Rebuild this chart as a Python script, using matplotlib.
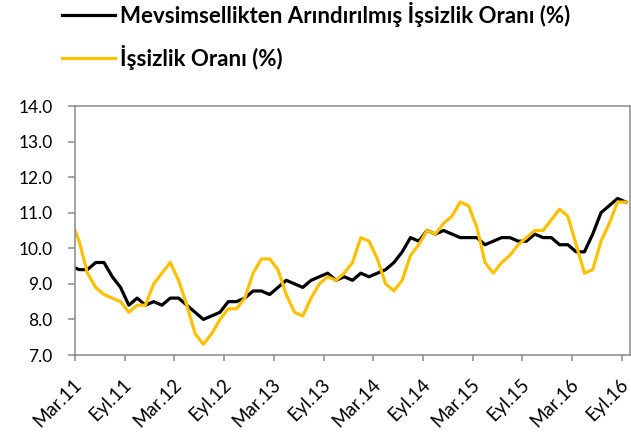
import matplotlib
matplotlib.use('Agg')
import matplotlib.pyplot as plt
from matplotlib.ticker import FixedLocator
from matplotlib.transforms import ScaledTranslation
import numpy as np

plt.rcParams['font.family'] = ['Lato', 'DejaVu Sans']

# aylik veri: Sub.11 .. Eyl.16 (ilk nokta eksenin solunda kaliyor, kirpiliyor)
ay_index = np.arange(-1, 67)

mevsimsel = [9.5, 9.4, 9.4, 9.6, 9.6, 9.2, 8.9, 8.4, 8.6, 8.4, 8.5, 8.4,
             8.6, 8.6, 8.4, 8.2, 8.0, 8.1, 8.2, 8.5, 8.5, 8.6, 8.8, 8.8,
             8.7, 8.9, 9.1, 9.0, 8.9, 9.1, 9.2, 9.3, 9.1, 9.2, 9.1, 9.3,
             9.2, 9.3, 9.4, 9.6, 9.9, 10.3, 10.2, 10.5, 10.4, 10.5, 10.4, 10.3,
             10.3, 10.3, 10.1, 10.2, 10.3, 10.3, 10.2, 10.2, 10.4, 10.3, 10.3, 10.1,
             10.1, 9.9, 9.9, 10.4, 11.0, 11.2, 11.4, 11.3]

issizlik = [10.8, 10.2, 9.3, 8.9, 8.7, 8.6, 8.5, 8.2, 8.4, 8.4, 9.0, 9.3,
            9.6, 9.1, 8.4, 7.6, 7.3, 7.6, 8.0, 8.3, 8.3, 8.6, 9.3, 9.7,
            9.7, 9.4, 8.7, 8.2, 8.1, 8.6, 9.0, 9.2, 9.1, 9.3, 9.6, 10.3,
            10.2, 9.7, 9.0, 8.8, 9.1, 9.8, 10.1, 10.5, 10.4, 10.7, 10.9, 11.3,
            11.2, 10.6, 9.6, 9.3, 9.6, 9.8, 10.1, 10.3, 10.5, 10.5, 10.8, 11.1,
            10.9, 10.1, 9.3, 9.4, 10.2, 10.7, 11.3, 11.3]

etiketler = ['Mar.11', 'Eyl.11', 'Mar.12', 'Eyl.12', 'Mar.13', 'Eyl.13',
             'Mar.14', 'Eyl.14', 'Mar.15', 'Eyl.15', 'Mar.16', 'Eyl.16']
etiket_yer = np.arange(0, 67, 6)

y_ticks = np.arange(7, 14.01, 1.0)

gri = '#898989'

fig = plt.figure(figsize=(6.31, 4.36), dpi=100)
ax = fig.add_axes([75/631, 81/436, 555/631, 249/436])

l1, = ax.plot(ay_index, mevsimsel, color='black', lw=2.3, solid_joinstyle='round')
l2, = ax.plot(ay_index, issizlik, color='#FFC000', lw=2.3, solid_joinstyle='round')

ax.set_xlim(-0.5, 66.5)
ax.set_ylim(7, 14)

ax.set_yticks(y_ticks)
ax.set_yticklabels([f'{v:.1f}' for v in y_ticks])

ax.set_xticks(etiket_yer)
ax.set_xticklabels(etiketler, rotation=45, ha='right', va='baseline',
                   rotation_mode='anchor')
ax.xaxis.set_minor_locator(FixedLocator(np.arange(-0.5, 67, 6)))

ax.tick_params(axis='y', length=5, width=1.1, color=gri, labelsize=12.5, pad=11)
ax.tick_params(axis='x', which='major', length=0, labelsize=13.5, pad=22)
ax.tick_params(axis='x', which='minor', length=4.5, width=1.1, color=gri)

# etiketleri biraz saga kaydir
kayma = ScaledTranslation(4/100, 0, fig.dpi_scale_trans)
for lab in ax.get_xticklabels():
    lab.set_transform(lab.get_transform() + kayma)

for s in ax.spines.values():
    s.set_color(gri)
    s.set_linewidth(1.1)

fig.legend([l1, l2], ['Mevsimsellikten Arındırılmış İşsizlik Oranı (%)', 'İşsizlik Oranı (%)'],
           loc='upper left', bbox_to_anchor=(62/631, 1 - 2/436), frameon=False,
           prop={'weight': 'bold', 'size': 16}, handlelength=2.4, handletextpad=0.2,
           labelspacing=0.8, borderaxespad=0, borderpad=0)

fig.savefig('out.png', dpi=100)
